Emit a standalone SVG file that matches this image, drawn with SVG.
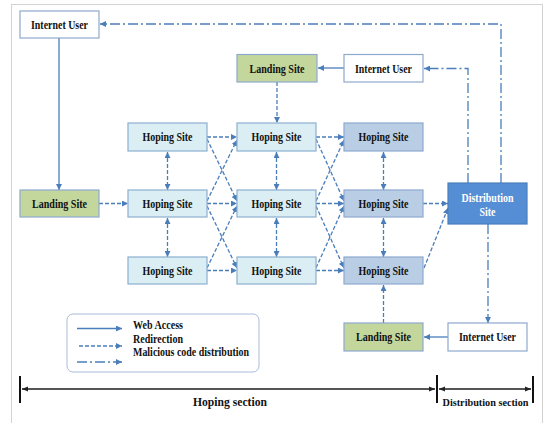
<svg xmlns="http://www.w3.org/2000/svg" width="546" height="423" viewBox="0 0 546 423">
<defs>
<marker id="ah" markerUnits="userSpaceOnUse" markerWidth="7" markerHeight="6" refX="6" refY="3" orient="auto-start-reverse"><path d="M0,0 L6,3 L0,6 z" fill="#4A7EBB"/></marker>
<marker id="bh" markerUnits="userSpaceOnUse" markerWidth="7" markerHeight="6" refX="6" refY="3" orient="auto-start-reverse"><path d="M0,0.5 L6,3 L0,5.5 z" fill="#222"/></marker>
<style>
.n{stroke-width:1.2}
.iu{fill:#fff;stroke:#8EA8CF}
.ls{fill:#C3D69B;stroke:#8EA8CF}
.h1{fill:#DAEEF3;stroke:#8EAFD0}
.h3{fill:#B9CDE5;stroke:#8EA8CF}
.ds{fill:#558ED5;stroke:#4A7EBB}
.t{font-family:"Liberation Serif","Times New Roman",serif;font-weight:bold;font-size:12.5px;fill:#111;text-anchor:middle;dominant-baseline:central}
.l{font-size:12px;text-anchor:start}
.w{fill:#fff}
.c{fill:none;stroke:#4A7EBB;stroke-width:1.3}
.so{marker-end:url(#ah)}
.da{stroke-dasharray:4 2;marker-end:url(#ah)}
.dd{stroke-dasharray:4 2;marker-end:url(#ah);marker-start:url(#ah)}
.dm{stroke-dasharray:10 3 2 3;marker-end:url(#ah)}
.sec{fill:none;stroke:#555;stroke-width:2}
.tk{stroke:#111;stroke-width:2}
</style>
</defs>
<rect x="11.5" y="4.5" width="531" height="440" fill="#fff" stroke="#D3D3D3"/>
<g id="connectors">
<path class="c so" d="M59,38 V190"/>
<path class="c dm" d="M501,183 V24 H100"/>
<path class="c dm" d="M468,183 V68.5 H424"/>
<path class="c so" d="M344,68 H318"/>
<path class="c da" d="M277,82 V123"/>
<path class="c dm" d="M488,224 V323"/>
<path class="c so" d="M448,337 H424"/>
<path class="c da" d="M383.5,323 V285"/>
<path class="c da" d="M99,203.5 H128"/>
<path class="c dd" d="M167.5,152 V190"/>
<path class="c dd" d="M167.5,218 V257"/>
<path class="c dd" d="M276.5,152 V190"/>
<path class="c dd" d="M276.5,218 V257"/>
<path class="c dd" d="M383.5,152 V190"/>
<path class="c dd" d="M383.5,218 V257"/>
<path class="c da" d="M207,137 H237"/>
<path class="c da" d="M207,203.5 H237"/>
<path class="c da" d="M207,270.5 H237"/>
<path class="c da" d="M207,139 L237,201"/>
<path class="c da" d="M207,201 L237,140"/>
<path class="c da" d="M207,206 L237,268"/>
<path class="c da" d="M207,268 L237,206"/>
<path class="c da" d="M316,137 H344"/>
<path class="c da" d="M316,203.5 H344"/>
<path class="c da" d="M316,270.5 H344"/>
<path class="c da" d="M316,139 L344,201"/>
<path class="c da" d="M316,201 L344,140"/>
<path class="c da" d="M316,206 L344,268"/>
<path class="c da" d="M316,268 L344,206"/>
<path class="c da" d="M423,203.5 H448"/>
<path class="c da" d="M424,268 L448,208"/>
</g>
<g id="internet-user-1"><rect class="n iu" x="20" y="11" width="79" height="27"/><text class="t" x="59.5" y="24.5" textLength="57" lengthAdjust="spacingAndGlyphs">Internet User</text></g>
<g id="landing-site-top"><rect class="n ls" x="237" y="54.5" width="80" height="27.5"/><text class="t" x="277" y="68.5" textLength="55" lengthAdjust="spacingAndGlyphs">Landing Site</text></g>
<g id="internet-user-2"><rect class="n iu" x="344" y="54.5" width="79" height="27.5"/><text class="t" x="383.5" y="68.5" textLength="57" lengthAdjust="spacingAndGlyphs">Internet User</text></g>
<g id="hoping-1-1"><rect class="n h1" x="128" y="123" width="79" height="28"/><text class="t" x="167.5" y="137" textLength="50" lengthAdjust="spacingAndGlyphs">Hoping Site</text></g>
<g id="hoping-1-2"><rect class="n h1" x="237" y="123" width="79" height="28"/><text class="t" x="276.5" y="137" textLength="50" lengthAdjust="spacingAndGlyphs">Hoping Site</text></g>
<g id="hoping-1-3"><rect class="n h3" x="344" y="123" width="79" height="28"/><text class="t" x="383.5" y="137" textLength="50" lengthAdjust="spacingAndGlyphs">Hoping Site</text></g>
<g id="landing-site-left"><rect class="n ls" x="20" y="190" width="79" height="27"/><text class="t" x="59.5" y="203.5" textLength="55" lengthAdjust="spacingAndGlyphs">Landing Site</text></g>
<g id="hoping-2-1"><rect class="n h1" x="128" y="190" width="79" height="27"/><text class="t" x="167.5" y="203.5" textLength="50" lengthAdjust="spacingAndGlyphs">Hoping Site</text></g>
<g id="hoping-2-2"><rect class="n h1" x="237" y="190" width="79" height="27"/><text class="t" x="276.5" y="203.5" textLength="50" lengthAdjust="spacingAndGlyphs">Hoping Site</text></g>
<g id="hoping-2-3"><rect class="n h3" x="344" y="190" width="79" height="27"/><text class="t" x="383.5" y="203.5" textLength="50" lengthAdjust="spacingAndGlyphs">Hoping Site</text></g>
<g id="distribution-site"><rect class="n ds" x="448" y="183" width="79" height="41"/><text class="t w" x="487.5" y="198" textLength="52" lengthAdjust="spacingAndGlyphs">Distribution</text><text class="t w" x="487.5" y="212" textLength="16" lengthAdjust="spacingAndGlyphs">Site</text></g>
<g id="hoping-3-1"><rect class="n h1" x="128" y="257" width="79" height="27"/><text class="t" x="167.5" y="270.5" textLength="50" lengthAdjust="spacingAndGlyphs">Hoping Site</text></g>
<g id="hoping-3-2"><rect class="n h1" x="237" y="257" width="79" height="27"/><text class="t" x="276.5" y="270.5" textLength="50" lengthAdjust="spacingAndGlyphs">Hoping Site</text></g>
<g id="hoping-3-3"><rect class="n h3" x="344" y="257" width="79" height="27"/><text class="t" x="383.5" y="270.5" textLength="50" lengthAdjust="spacingAndGlyphs">Hoping Site</text></g>
<g id="landing-site-bottom"><rect class="n ls" x="344" y="323" width="79" height="28"/><text class="t" x="383.5" y="337" textLength="55" lengthAdjust="spacingAndGlyphs">Landing Site</text></g>
<g id="internet-user-3"><rect class="n iu" x="448" y="323" width="79" height="28"/><text class="t" x="487.5" y="337" textLength="57" lengthAdjust="spacingAndGlyphs">Internet User</text></g>
<g id="legend">
<rect x="67" y="314" width="192" height="58" rx="6" fill="#fff" stroke="#A9BCD8"/>
<path class="c so" d="M77,328.5 H122"/>
<path class="c da" d="M79,346 H122"/>
<path class="c dm" d="M77,362 H122"/>
<text class="t l" x="133" y="324.5" textLength="50" lengthAdjust="spacingAndGlyphs">Web Access</text>
<text class="t l" x="133" y="338.5" textLength="50" lengthAdjust="spacingAndGlyphs">Redirection</text>
<text class="t l" x="133" y="352" textLength="116" lengthAdjust="spacingAndGlyphs">Malicious code distribution</text>
</g>
<g id="sections">
<path class="tk" d="M20,376 V403"/>
<path class="tk" d="M437,375 V403"/>
<path class="tk" d="M533,376 V403"/>
<path class="sec" d="M22,389 H435" marker-start="url(#bh)" marker-end="url(#bh)"/>
<path class="sec" d="M439,389 H531" marker-start="url(#bh)" marker-end="url(#bh)"/>
<text class="t" x="230" y="401" style="font-size:13px" textLength="74" lengthAdjust="spacingAndGlyphs">Hoping section</text>
<text class="t" x="485.5" y="402" style="font-size:11px" textLength="86" lengthAdjust="spacingAndGlyphs">Distribution section</text>
</g>
</svg>
